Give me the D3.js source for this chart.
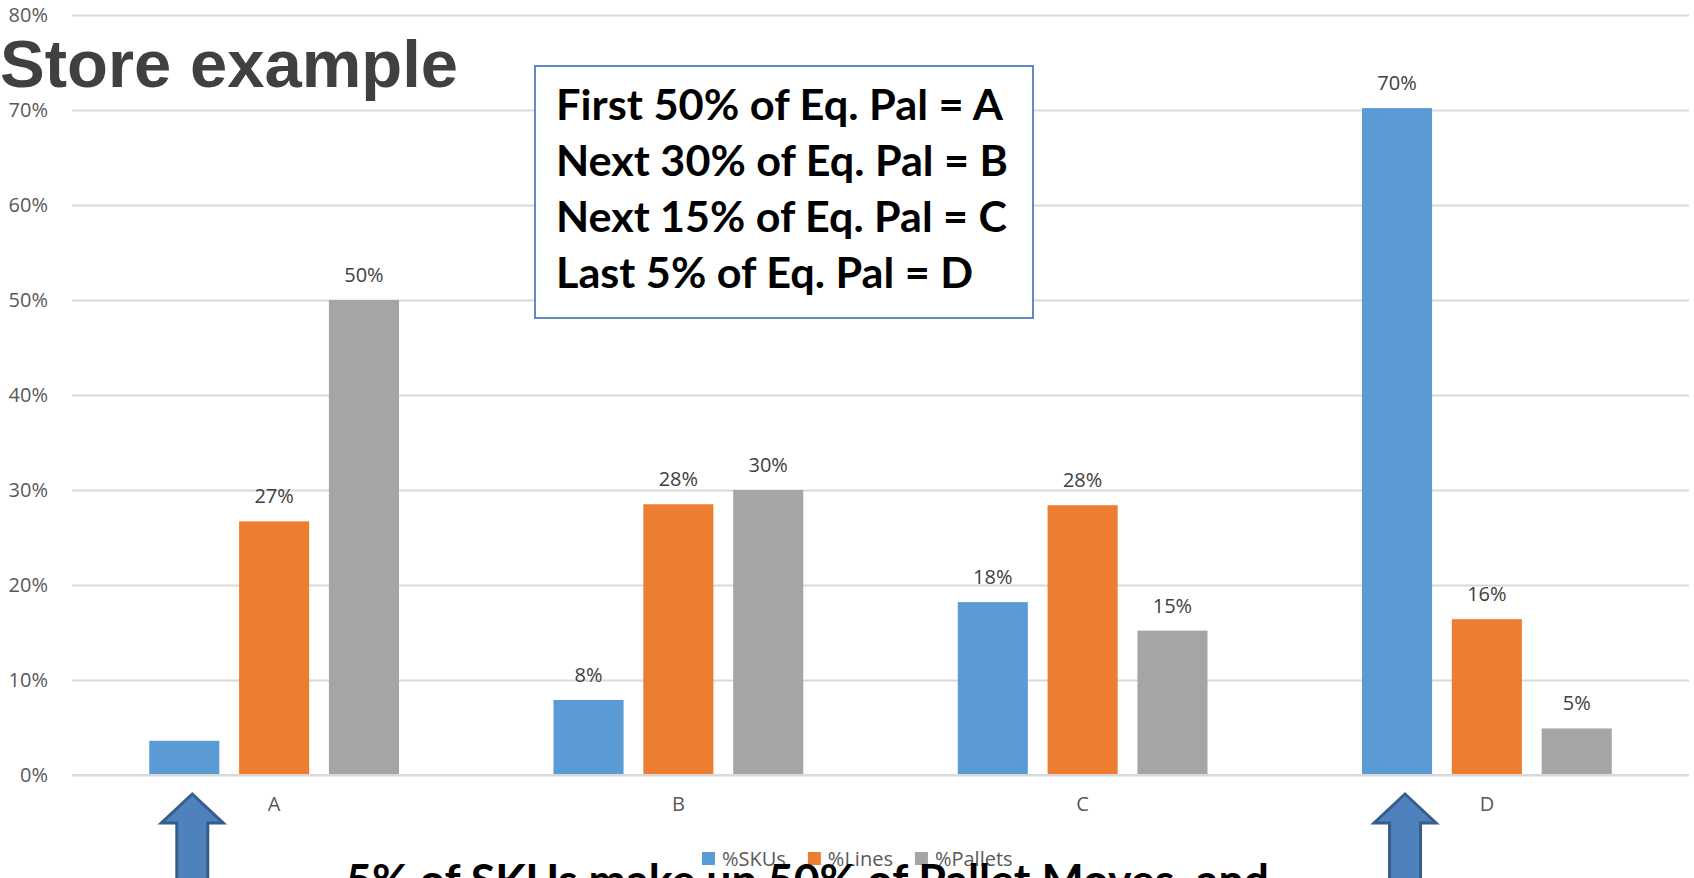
<!DOCTYPE html>
<html>
<head>
<meta charset="utf-8">
<script src="https://cdn.jsdelivr.net/npm/d3@7"></script>
<style>
  html, body { margin: 0; padding: 0; background: #fff; overflow: hidden; }
  svg { display: block; }
</style>
</head>
<body>
<svg id="chart" width="1694" height="878"></svg>
<script>
// ---- data ----
const categories = ["A", "B", "C", "D"];
const seriesNames = ["%SKUs", "%Lines", "%Pallets"];
const skus    = [0.036, 0.079, 0.182, 0.702];
const lines   = [0.267, 0.285, 0.284, 0.164];
const pallets = [0.500, 0.300, 0.152, 0.049];
const skuLabels    = ["", "8%", "18%", "70%"];
const lineLabels   = ["27%", "28%", "28%", "16%"];
const palletLabels = ["50%", "30%", "15%", "5%"];
const yTicks = [0, 0.1, 0.2, 0.3, 0.4, 0.5, 0.6, 0.7, 0.8];
const boxLines = [
  "First 50% of Eq. Pal = A",
  "Next 30% of Eq. Pal = B",
  "Next 15% of Eq. Pal = C",
  "Last 5% of Eq. Pal = D"
];
const titleText = "Store example";
const bottomText = "5% of SKUs  make up 50% of Pallet Moves, and";
const arrowCategories = ["A", "D"];

// ---- setup ----
const colors = { "%SKUs": "#5b9bd5", "%Lines": "#ed7d31", "%Pallets": "#a5a5a5" };
const seriesValues = { "%SKUs": skus, "%Lines": lines, "%Pallets": pallets };
const seriesLabels = { "%SKUs": skuLabels, "%Lines": lineLabels, "%Pallets": palletLabels };

const svg = d3.select("#chart");
const plotLeft = 72, plotRight = 1689, plotTop = 15, plotBottom = 775;

const x0 = d3.scaleBand().domain(categories).range([plotLeft, plotRight]).paddingInner(0).paddingOuter(0);
const x1 = d3.scaleBand().domain(seriesNames).range([0, x0.bandwidth()]).paddingInner(0.22).paddingOuter(0.86);
const y = d3.scaleLinear().domain([0, 0.8]).range([plotBottom, plotTop]);

const labelFont = "'Open Sans', sans-serif";

// gridlines + y axis
const yAxis = d3.axisLeft(y).tickValues(yTicks).tickFormat(d3.format(".0%")).tickSize(-(plotRight - plotLeft)).tickPadding(24);
const gy = svg.append("g").attr("transform", `translate(${plotLeft},0)`).call(yAxis);
gy.select(".domain").remove();
gy.selectAll(".tick line").attr("stroke", "#d9d9d9").attr("stroke-width", 2);
gy.selectAll(".tick text").attr("font-family", labelFont).attr("font-size", 20).attr("fill", "#595959");

// title
svg.append("text").attr("x", 0).attr("y", 87)
  .attr("font-family", "'Liberation Sans', Arial, sans-serif").attr("font-weight", "bold")
  .attr("font-size", 67).attr("fill", "#404040").text(titleText);

// bars
const rows = categories.map((c, i) => ({ cat: c, i }));
const groups = svg.append("g").selectAll("g").data(rows).join("g")
  .attr("transform", d => `translate(${x0(d.cat)},0)`);

groups.selectAll("rect").data(d => seriesNames.map(s => ({ s, v: seriesValues[s][d.i], label: seriesLabels[s][d.i] })))
  .join("rect")
  .attr("x", d => x1(d.s)).attr("width", x1.bandwidth())
  .attr("y", d => y(d.v)).attr("height", d => y(0) - y(d.v))
  .attr("fill", d => colors[d.s]);

groups.selectAll("text.lbl").data(d => seriesNames.map(s => ({ s, v: seriesValues[s][d.i], label: seriesLabels[s][d.i] })))
  .join("text").attr("class", "lbl")
  .attr("x", d => x1(d.s) + x1.bandwidth() / 2).attr("y", d => y(d.v) - 18)
  .attr("text-anchor", "middle").attr("font-family", labelFont).attr("font-size", 20)
  .attr("fill", "#404040").text(d => d.label);

// x axis labels
const xAxis = d3.axisBottom(x0).tickSize(0).tickPadding(22);
const gx = svg.append("g").attr("transform", `translate(0,${plotBottom})`).call(xAxis);
gx.select(".domain").remove();
gx.selectAll(".tick text").attr("font-family", labelFont).attr("font-size", 20).attr("fill", "#595959");

// baseline
svg.append("line").attr("x1", plotLeft).attr("x2", plotRight).attr("y1", y(0)).attr("y2", y(0))
  .attr("stroke", "#d9d9d9").attr("stroke-width", 2);

// text box
const box = svg.append("g");
box.append("rect").attr("x", 535).attr("y", 66).attr("width", 498).attr("height", 252)
  .attr("fill", "#fff").attr("stroke", "#4f81bd").attr("stroke-width", 1.8);
const boxWidths = [447, 452, 451, 417];
box.selectAll("text").data(boxLines).join("text")
  .attr("x", 556).attr("y", (d, i) => 120 + i * 56)
  .attr("font-family", "Lato, 'Open Sans', sans-serif").attr("font-weight", "bold")
  .attr("font-size", 42).attr("fill", "#000")
  .attr("textLength", (d, i) => boxWidths[i]).attr("lengthAdjust", "spacingAndGlyphs")
  .text(d => d);

// legend
const legend = svg.append("g");
let lx = 702;
seriesNames.forEach(s => {
  legend.append("rect").attr("x", lx).attr("y", 852).attr("width", 13).attr("height", 13).attr("fill", colors[s]);
  const t = legend.append("text").attr("x", lx + 20).attr("y", 866)
    .attr("font-family", labelFont).attr("font-size", 20).attr("fill", "#595959").text(s);
  lx += 20 + t.node().getComputedTextLength() + 22;
});

// arrows
const arrowPath = (cx) => {
  const tip = 794, headBase = 823, hw = 31, sw = 15.5, bottom = 900;
  return `M${cx},${tip} L${cx + hw},${headBase} L${cx + sw},${headBase} L${cx + sw},${bottom} L${cx - sw},${bottom} L${cx - sw},${headBase} L${cx - hw},${headBase} Z`;
};
arrowCategories.forEach(c => {
  const cx = x0(c) + x1("%SKUs") + x1.bandwidth() / 2 + 8;
  svg.append("path").attr("d", arrowPath(cx)).attr("fill", "#4f81bd")
    .attr("stroke", "#385d8a").attr("stroke-width", 3).attr("stroke-linejoin", "miter");
});

// bottom text (cut off)
svg.append("text").attr("x", 346).attr("y", 896)
  .attr("font-family", "Lato, 'Open Sans', sans-serif").attr("font-weight", "bold")
  .attr("font-size", 44).attr("fill", "#000")
  .attr("textLength", 923).attr("lengthAdjust", "spacingAndGlyphs")
  .text(bottomText);
</script>
</body>
</html>
